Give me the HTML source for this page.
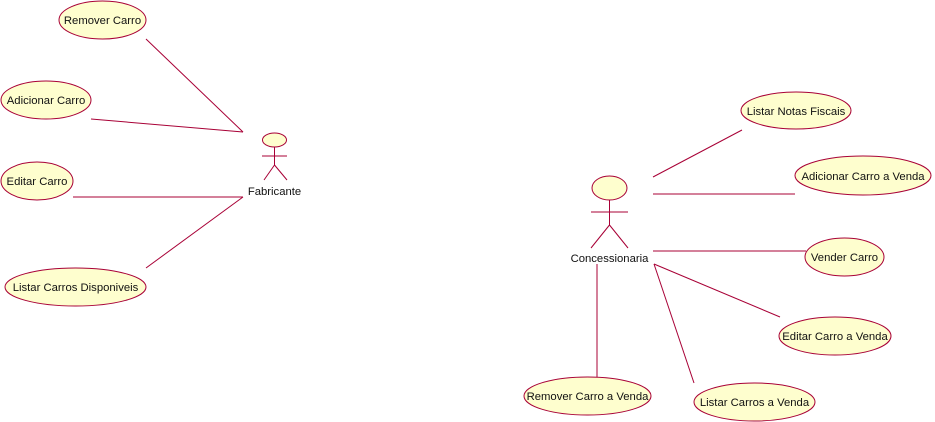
<!DOCTYPE html>
<html><head><meta charset="utf-8"><style>body{margin:0;background:#fff}svg{display:block}text{font-family:"Liberation Sans",sans-serif;font-size:11.3px;fill:#111}</style></head>
<body>
<svg width="935" height="422" viewBox="0 0 935 422" xmlns="http://www.w3.org/2000/svg">
<g stroke="#A80036" stroke-width="1" fill="none">
<line x1="146" y1="39" x2="243" y2="132"/>
<line x1="91" y1="119" x2="243" y2="132"/>
<line x1="73" y1="197" x2="243" y2="197"/>
<line x1="146" y1="268" x2="243" y2="197"/>
<line x1="653" y1="177" x2="742" y2="130"/>
<line x1="653" y1="194" x2="795" y2="194"/>
<line x1="653" y1="251" x2="806" y2="251"/>
<line x1="654" y1="264" x2="780" y2="317"/>
<line x1="654" y1="264" x2="694" y2="383"/>
<line x1="597" y1="264" x2="597" y2="377"/>
</g>
<g stroke="#A80036" stroke-width="1" fill="#FEFECE">
<ellipse cx="102.5" cy="20" rx="43.5" ry="19"/>
<ellipse cx="46" cy="100" rx="45" ry="19"/>
<ellipse cx="37" cy="181" rx="36" ry="19"/>
<ellipse cx="75.5" cy="287" rx="70.5" ry="19"/>
<ellipse cx="796" cy="110.5" rx="55" ry="18.5"/>
<ellipse cx="863" cy="175.5" rx="68" ry="19.5"/>
<ellipse cx="844.5" cy="257" rx="39.5" ry="19"/>
<ellipse cx="835" cy="336" rx="56" ry="19"/>
<ellipse cx="754.5" cy="402" rx="60.5" ry="19"/>
<ellipse cx="587.5" cy="396" rx="63.5" ry="19"/>
<ellipse cx="274.5" cy="140" rx="12" ry="7"/>
<ellipse cx="609.5" cy="188" rx="17.5" ry="12"/>
</g>
<g stroke="#A80036" stroke-width="1" fill="none">
<path d="M274.5 147V165M262 156H287M274.5 165L264 180M274.5 165L287 180"/>
<path d="M609.5 200V225M591 212H628M609.5 225L591 248M609.5 225L628 248"/>
</g>
<g text-anchor="middle">
<text x="102.5" y="24">Remover Carro</text>
<text x="46" y="104">Adicionar Carro</text>
<text x="37" y="185">Editar Carro</text>
<text x="75.5" y="291">Listar Carros Disponiveis</text>
<text x="274.5" y="195">Fabricante</text>
<text x="609.5" y="262">Concessionaria</text>
<text x="796" y="115">Listar Notas Fiscais</text>
<text x="863" y="180">Adicionar Carro a Venda</text>
<text x="844.5" y="261">Vender Carro</text>
<text x="835" y="340">Editar Carro a Venda</text>
<text x="754.5" y="406">Listar Carros a Venda</text>
<text x="587.5" y="400">Remover Carro a Venda</text>
</g>
</svg>
</body></html>
